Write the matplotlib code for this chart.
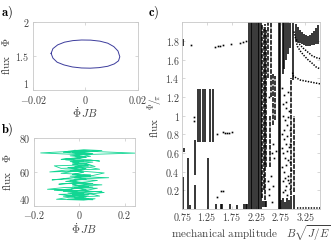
import matplotlib
matplotlib.use("Agg")
import matplotlib.pyplot as plt
from matplotlib.ticker import FuncFormatter

plt.rcParams["mathtext.fontset"] = "cm"
plt.rcParams["font.family"] = ["DejaVu Serif"]

# ---------------------------------------------------------------------------
# Data
# ---------------------------------------------------------------------------
# a) limit cycle in phase space
a_x = [-0.0131, -0.0124, -0.0106, -0.0080, -0.0048, -0.0015, 0.0020, 0.0055,
       0.0085, 0.0108, 0.0124, 0.0131, 0.0126, 0.0110, 0.0085, 0.0052, 0.0018,
       -0.0015, -0.0050, -0.0082, -0.0108, -0.0124, -0.0131]
a_y = [1.54, 1.61, 1.665, 1.705, 1.728, 1.737, 1.735, 1.72, 1.69, 1.64, 1.575,
       1.49, 1.43, 1.385, 1.35, 1.33, 1.322, 1.325, 1.34, 1.37, 1.41, 1.47, 1.54]

# b) chaotic trajectory
b_x = [-0.02, 0.07, 0.02, -0.10, -0.04, 0.09, 0.05, -0.09, -0.03, 0.11, 0.03,
       -0.14, -0.06, 0.08, 0.04, -0.07, 0.02, 0.10, -0.02, -0.09, 0.03, 0.08,
       -0.05, -0.12, -0.02, 0.06, 0.11, 0.00, -0.13, -0.06, 0.09, 0.05, -0.08,
       -0.11, 0.01, 0.07, 0.03, -0.04, 0.05, 0.09, -0.03, -0.08, 0.05, 0.02,
       -0.17, 0.00, 0.245, 0.04, -0.07, 0.10, 0.02, -0.05,
       0.06, -0.04, 0.03, -0.06, 0.06, -0.03, 0.04, -0.05, 0.02, -0.08, 0.05,
       -0.04, 0.13, 0.02, -0.06, 0.06, -0.03, 0.06, -0.11, 0.02, 0.10, -0.05,
       0.04, -0.07, 0.03, -0.05, 0.06,
       -0.02, 0.03, -0.03, 0.02, -0.04, 0.03, -0.02, 0.04, -0.03, 0.02, -0.04,
       0.03, -0.02, 0.05, -0.03, 0.02, -0.04, 0.03, -0.02, 0.04, -0.03, 0.02,
       -0.05, 0.03, -0.02, 0.04, -0.03, 0.06, -0.02]
b_y = [44.8, 44.2, 43.4, 43.9, 45.2, 45.8, 47.2, 46.8, 45.9, 47.9, 48.9,
       49.8, 50.9, 50.4, 49.4, 48.6, 51.8, 52.4, 53.4, 52.8, 54.1, 55.0,
       55.9, 55.3, 56.8, 57.9, 59.4, 60.6, 60.0, 61.1, 61.6, 62.6, 62.1,
       63.6, 64.1, 63.2, 65.0, 66.1, 67.0, 66.4, 68.0, 67.4, 69.2, 70.1,
       71.2, 72.4, 71.1, 70.3, 71.6, 72.6, 73.1, 72.2,
       70.8, 69.5, 68.6, 67.1, 65.8, 64.5, 63.4, 62.6, 61.3, 59.2, 58.3,
       57.5, 56.6, 56.0, 54.4, 53.2, 51.7, 51.1, 49.2, 48.2, 48.6, 47.6,
       46.4, 45.7, 44.7, 44.0, 43.6,
       44.9, 45.6, 46.6, 47.5, 48.4, 49.6, 50.5, 51.4, 52.6, 53.7, 54.8,
       55.7, 56.5, 57.4, 58.6, 59.8, 60.8, 62.0, 63.0, 64.3, 65.3, 66.6,
       67.6, 68.7, 69.6, 70.6, 71.4, 72.0, 72.8]

# c) bifurcation diagram: solid vertical segments
c_bar_x = [0.76, 0.765, 0.78, 0.87, 0.91, 1.01, 1.01,
           1.07, 1.115, 1.16, 1.205, 1.32, 1.37, 1.27,
           1.44, 1.53, 1.56, 1.72, 1.86, 2.00, 2.04, 2.07,
           2.105, 2.14, 2.175, 2.21, 2.245, 2.28, 2.315, 2.345,
           2.38, 2.42, 2.46,
           2.715, 2.74,
           2.79, 2.825, 2.86, 2.895, 2.93, 2.99,
           2.76, 2.80, 2.84, 2.88, 2.92, 2.96, 3.03,
           3.06, 3.10, 3.14, 3.18, 3.22, 3.26, 3.30, 3.34, 3.38, 3.42, 3.46, 3.50]
c_bar_lo = [0.0, 1.74, 0.61, 0.0, 0.0, 0.36, 0.0,
            0.72, 0.72, 0.72, 0.72, 0.72, 0.72, 0.0,
            0.0, 0.0, 0.0, 0.0, 0.0, 0.0, 0.0, 0.0,
            0.0, 0.0, 0.0, 0.0, 0.0, 0.0, 0.0, 0.0,
            0.02, 0.02, 0.02,
            0.0, 0.0,
            1.45, 1.50, 1.60, 1.66, 1.72, 1.38,
            0.0, 0.0, 0.0, 0.0, 0.0, 0.0, 0.0,
            1.80, 1.79, 1.78, 1.77, 1.76, 1.75, 1.75, 1.75, 1.76, 1.76, 1.77, 1.77]
c_bar_hi = [0.34, 1.82, 0.65, 0.55, 0.04, 0.74, 0.26,
            1.28, 1.28, 1.28, 1.28, 1.28, 1.28, 0.55,
            0.05, 0.05, 0.05, 0.05, 0.04, 0.05, 0.05, 0.05,
            2.0, 2.0, 2.0, 2.0, 2.0, 2.0, 2.0, 2.0,
            0.09, 0.09, 0.09,
            2.0, 2.0,
            2.0, 2.0, 2.0, 2.0, 1.99, 1.99,
            0.10, 0.12, 0.08, 0.12, 0.10, 0.14, 0.15,
            1.98, 1.95, 1.92, 1.89, 1.87, 1.86, 1.85, 1.86, 1.88, 1.91, 1.94, 1.97]

# c) broken (speckled) vertical segments
c_brk_x = [2.37, 2.40, 2.43, 2.46, 2.50, 2.53, 2.56, 2.60, 2.64,
           2.955, 3.02]
c_brk_lo = [0.12, 0.20, 0.10, 0.45, 1.40, 0.45, 1.20, 0.90, 0.95,
            0.15, 0.18]
c_brk_hi = [1.97, 1.95, 1.98, 1.92, 2.00, 1.00, 2.00, 1.45, 1.42,
            1.40, 1.00]

# c) isolated points
c_dot_x = [0.93, 0.98, 0.98, 1.42, 1.47, 1.52, 1.58, 1.73, 1.93, 1.98, 2.04,
           1.45, 1.58, 1.61, 1.66, 1.70, 1.75, 1.45, 1.53, 1.57,
           2.49, 2.51, 2.55, 2.52, 2.57, 2.59, 2.62, 2.60, 2.66, 2.58, 2.52,
           2.78, 2.81, 2.85, 2.89, 2.92, 2.79, 2.83, 2.87, 2.90, 2.94, 2.77,
           2.82, 2.86, 2.91, 2.80, 2.84, 2.88, 2.93, 2.78, 2.82, 2.86, 2.90,
           2.95, 2.80, 2.85, 2.89, 2.93, 2.79, 2.83, 2.87, 2.91, 2.77, 2.81,
           2.85, 2.89, 2.93, 2.80, 2.84, 2.88]
c_dot_y = [1.76, 0.98, 0.94, 1.73, 1.74, 1.75, 1.76, 1.77, 1.78, 1.79, 1.80,
           0.80, 0.82, 0.81, 0.81, 0.81, 0.82, 0.13, 0.19, 0.19,
           0.30, 0.22, 0.35, 0.15, 0.60, 0.70, 0.55, 0.25, 0.62, 0.08, 1.20,
           1.30, 1.22, 1.15, 1.25, 1.05, 1.00, 0.95, 0.90, 0.98, 0.85, 0.80,
           0.75, 0.70, 0.66, 0.60, 0.55, 0.62, 0.50, 0.45, 0.40, 0.47, 0.35,
           0.42, 0.30, 0.25, 0.31, 0.22, 0.18, 0.20, 0.15, 0.28, 0.65, 0.85,
           1.08, 0.52, 0.70, 1.12, 0.33, 0.78]

# c) dotted branches on the right
c_br1_x = [3.02, 3.05, 3.12, 3.21, 3.30, 3.39, 3.47, 3.55]
c_br1_y = [1.90, 1.83, 1.77, 1.72, 1.68, 1.64, 1.62, 1.61]
c_br2_x = [3.06, 3.09, 3.15, 3.21, 3.30, 3.39, 3.47, 3.55]
c_br2_y = [1.80, 1.74, 1.69, 1.65, 1.60, 1.56, 1.52, 1.50]
c_br3_x = [2.99, 3.01, 3.08, 3.15, 3.25, 3.35, 3.45, 3.55]
c_br3_y = [1.46, 1.42, 1.40, 1.38, 1.37, 1.36, 1.35, 1.34]
c_br4_x = [3.08, 3.55]
c_br4_y = [0.01, 0.01]

GREY = "#c8c8c8"
TXT = "#404040"


def style(ax, fs=7.2, xpad=1.5, ypad=1.5):
    for s in ax.spines.values():
        s.set_color(GREY)
        s.set_linewidth(0.6)
    ax.tick_params(direction="in", length=2, width=0.5, color=GREY,
                   labelcolor=TXT, labelsize=fs, top=True, right=True)
    ax.tick_params(axis="x", pad=xpad)
    ax.tick_params(axis="y", pad=ypad)
    ax.xaxis.set_major_formatter(FuncFormatter(lambda v, p: f"${v:g}$"))
    ax.yaxis.set_major_formatter(FuncFormatter(lambda v, p: f"${v:g}$"))


fig = plt.figure(figsize=(3.32, 2.46), dpi=100)

# a)
ax_a = fig.add_axes([0.0994, 0.634, 0.316, 0.276])
ax_a.plot(a_x, a_y, color="#3c3c9c", lw=0.7)
ax_a.set_xlim(-0.02, 0.02)
ax_a.set_ylim(1, 2)
ax_a.set_xticks([-0.02, 0, 0.02])
ax_a.set_yticks([1, 1.5, 2])
style(ax_a, xpad=2.5, ypad=2.5)
ax_a.yaxis.get_major_ticks()[0].label1.set_va("bottom")
ax_a.set_xlabel(r"$\dot{\Phi}\,JB$", fontsize=8, color=TXT, labelpad=0)
ax_a.set_ylabel(r"$\mathrm{flux}\quad \Phi$", fontsize=8, color=TXT)
ax_a.yaxis.set_label_coords(-0.2, 0.5)

# b)
ax_b = fig.add_axes([0.102, 0.163, 0.304, 0.276])
ax_b.plot(b_x, b_y, color="#12d693", lw=0.6)
ax_b.set_xlim(-0.2, 0.245)
ax_b.set_ylim(40, 80)
ax_b.set_xticks([-0.2, 0, 0.2])
ax_b.set_yticks([40, 60, 80])
style(ax_b, xpad=2.5, ypad=2.5)
ax_b.yaxis.get_major_ticks()[0].label1.set_va("bottom")
ax_b.set_xlabel(r"$\dot{\Phi}\,JB$", fontsize=8, color=TXT, labelpad=0)
ax_b.set_ylabel(r"$\mathrm{flux}\quad \Phi$", fontsize=8, color=TXT)
ax_b.yaxis.set_label_coords(-0.21, 0.5)

# c)
ax_c = fig.add_axes([0.548, 0.150, 0.416, 0.760])
ax_c.vlines(c_bar_x, c_bar_lo, c_bar_hi, colors="k", lw=1.1)
ax_c.vlines(c_brk_x, c_brk_lo, c_brk_hi, colors="k", lw=1.1,
            linestyles=(0, (3, 0.8)))
ax_c.plot(c_dot_x, c_dot_y, "s", color="k", ms=1.2, mew=0)
for bx, by in [(c_br1_x, c_br1_y), (c_br2_x, c_br2_y),
               (c_br3_x, c_br3_y), (c_br4_x, c_br4_y)]:
    ax_c.plot(bx, by, color="k", lw=1.1, ls=(0, (0.9, 0.9)))
ax_c.set_xlim(0.74, 3.55)
ax_c.set_ylim(0, 2.0)
ax_c.set_xticks([0.75, 1.25, 1.75, 2.25, 2.75, 3.25])
ax_c.set_yticks([0.2, 0.4, 0.6, 0.8, 1, 1.2, 1.4, 1.6, 1.8])
style(ax_c)
ax_c.set_xlabel(r"$\mathrm{mechanical\ amplitude}\quad B\sqrt{J/E}$",
                fontsize=8, color=TXT, labelpad=0)
ax_c.set_ylabel(r"$\mathrm{flux}\quad {}^{\Phi}\!/\!_{\pi}$",
                fontsize=8, color=TXT)
ax_c.yaxis.set_label_coords(-0.125, 0.5)

fig.text(0.003, 0.95, r"$\mathbf{a)}$", fontsize=9, va="center")
fig.text(0.003, 0.475, r"$\mathbf{b)}$", fontsize=9, va="center")
fig.text(0.445, 0.95, r"$\mathbf{c)}$", fontsize=9, va="center")

fig.savefig("out.png", dpi=100)
